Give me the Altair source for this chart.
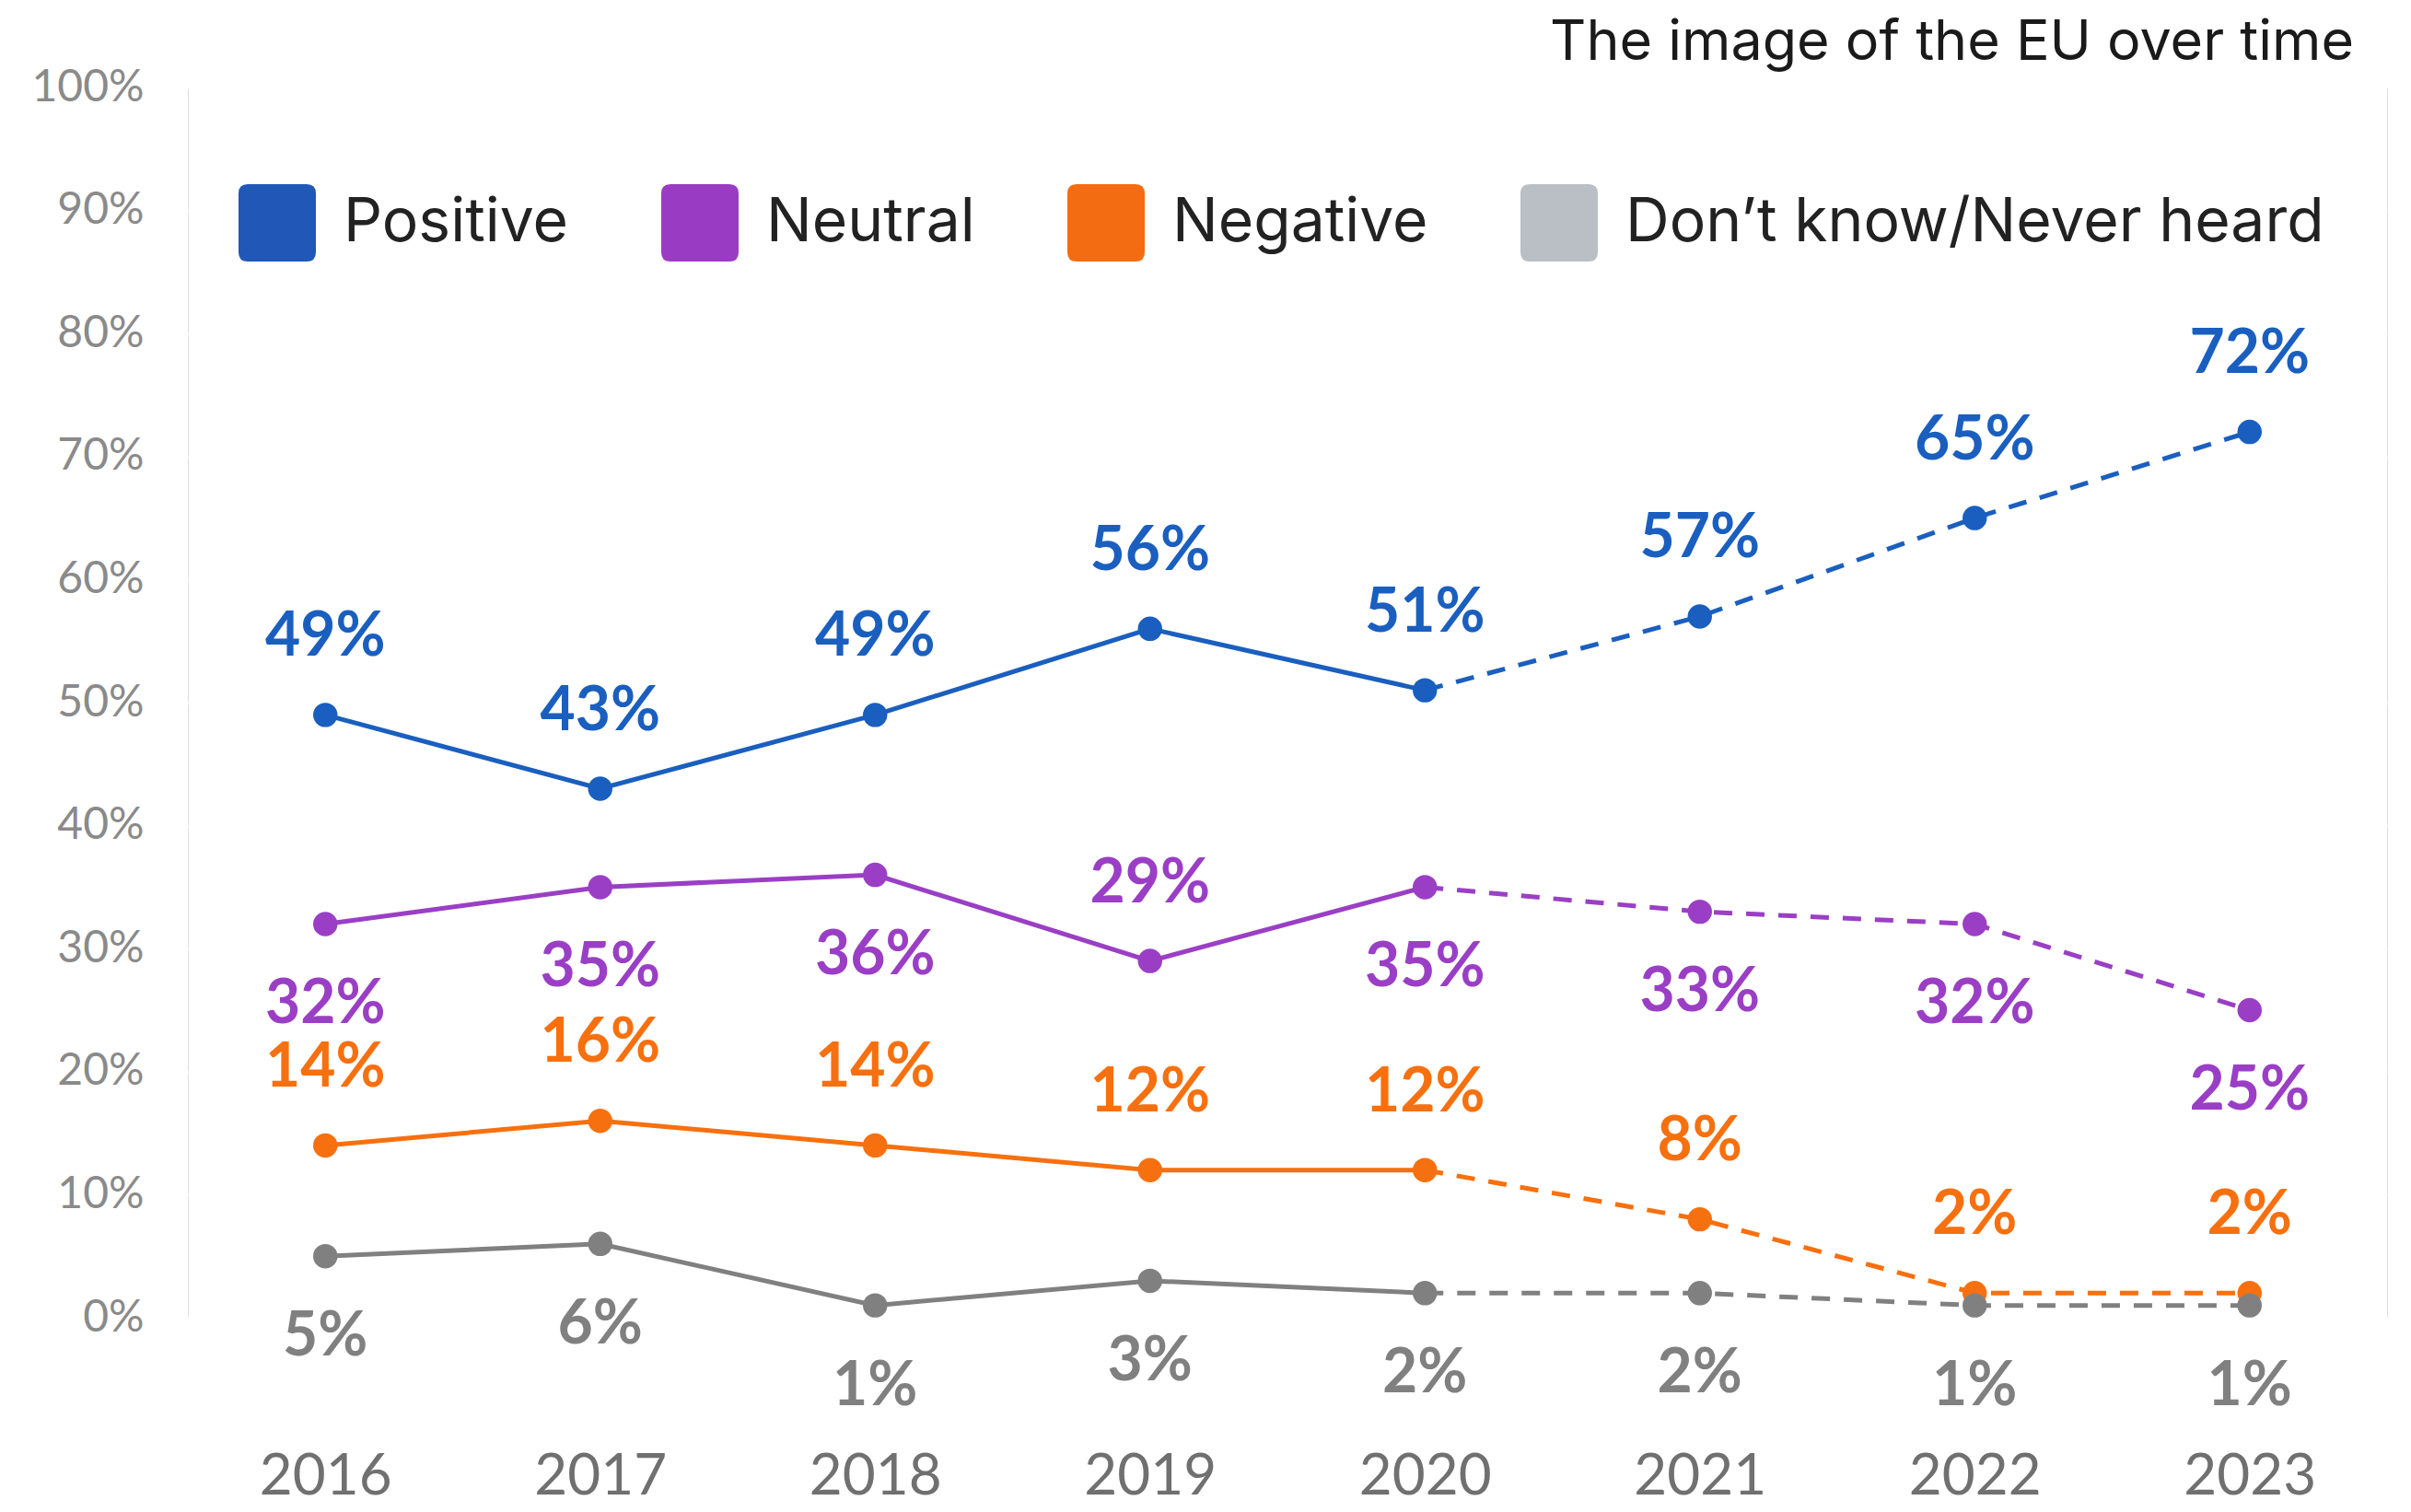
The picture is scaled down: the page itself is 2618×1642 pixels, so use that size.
import altair as alt
import pandas as pd

# ---------------- data ----------------
years = [2016, 2017, 2018, 2019, 2020, 2021, 2022, 2023]
series = ["Positive", "Neutral", "Negative", "Don’t know/Never heard"]
positive = [49, 43, 49, 56, 51, 57, 65, 72]
neutral = [32, 35, 36, 29, 35, 33, 32, 25]
negative = [14, 16, 14, 12, 12, 8, 2, 2]
dont_know = [5, 6, 1, 3, 2, 2, 1, 1]
y_ticks = [0, 10, 20, 30, 40, 50, 60, 70, 80, 90, 100]
title_text = "The image of the EU over time"
last_solid_year = 2020

# ---------------- style ----------------
line_colors = ["#1a5fbf", "#9a3fc5", "#f7700f", "#808080"]
legend_colors = ["#2157b6", "#9a3cc3", "#f46c12", "#b9bfc5"]
series_labels_above = ["Positive", "Negative"]
label_side_exceptions = {("Neutral", 2019): "above"}

values_by_series = dict(zip(series, [positive, neutral, negative, dont_know]))
rows = []
for s in series:
    for yr, v in zip(years, values_by_series[s]):
        side = "above" if s in series_labels_above else "below"
        side = label_side_exceptions.get((s, yr), side)
        rows.append({
            "series": s, "year": str(yr), "value": v,
            "label": f"{v}%",
            "solid": yr <= last_solid_year,
            "dashed": yr >= last_solid_year,
            "side": side,
        })
df = pd.DataFrame(rows)

year_order = [str(y) for y in years]
x_enc = alt.X("year:O", sort=year_order,
              scale=alt.Scale(type="point", padding=0.5),
              axis=alt.Axis(title=None, labelAngle=0, ticks=False, domain=False,
                            grid=False, labelFont="Lato", labelFontSize=62,
                            labelColor="#707070", labelPadding=142))
y_enc = alt.Y("value:Q",
              scale=alt.Scale(domain=[0, 100], nice=False, zero=True),
              axis=alt.Axis(title=None, values=y_ticks, labelExpr="datum.value + '%'",
                            ticks=False, domain=False, grid=True,
                            gridColor="#ffffff", gridWidth=4,
                            labelFont="Lato", labelFontSize=48,
                            labelColor="#8a8a8a", labelPadding=48))

line_scale = alt.Scale(domain=series, range=line_colors)
color_lines = alt.Color("series:N", scale=line_scale, legend=None)

base = alt.Chart(df).encode(x=x_enc, y=y_enc)

solid = base.transform_filter("datum.solid").mark_line(strokeWidth=5).encode(
    color=color_lines, detail="series:N")
dashed = base.transform_filter("datum.dashed").mark_line(
    strokeWidth=5, strokeDash=[20, 15]).encode(color=color_lines, detail="series:N")
points = base.mark_circle(size=700, opacity=1).encode(color=color_lines)

text_style = dict(font="Lato", fontSize=66, fontWeight="bold", baseline="middle",
                  align="center")
labels_above = base.transform_filter("datum.side == 'above'").mark_text(
    dy=-84, **text_style).encode(text="label:N", color=color_lines)
labels_below = base.transform_filter("datum.side == 'below'").mark_text(
    dy=88, **text_style).encode(text="label:N", color=color_lines)

rounded_square = ("M -0.76 -1 L 0.76 -1 Q 1 -1 1 -0.76 L 1 0.76 Q 1 1 0.76 1 "
                  "L -0.76 1 Q -1 1 -1 0.76 L -1 -0.76 Q -1 -1 -0.76 -1 Z")
legend_layer = base.mark_square(opacity=0, size=10).encode(
    color=alt.Color("series:N", sort=series,
                    scale=alt.Scale(domain=series, range=legend_colors),
                    legend=alt.Legend(
                        title=None, orient="none", legendX=55, legendY=105,
                        direction="horizontal", symbolType=rounded_square,
                        symbolSize=7056, symbolOpacity=1, symbolStrokeWidth=0,
                        labelFont="Inter", labelFontSize=66, labelColor="#222222",
                        labelOffset=30, columnPadding=100, labelLimit=2000,
                        padding=0)))

chart = alt.layer(
    solid, dashed, points, labels_above, labels_below, legend_layer
).resolve_scale(color="independent").properties(
    width=2388, height=1336,
    autosize=alt.AutoSizeParams(type="none"),
    padding={"left": 196, "top": 87, "right": 10, "bottom": 203},
    title=alt.TitleParams(title_text, anchor="end", frame="group", font="Inter",
                          fontSize=61, fontWeight="normal", color="#1a1a1a",
                          dx=-36, offset=-55, baseline="alphabetic"),
).configure_view(
    fill="#f2f2f2", stroke="#d4d4d4", strokeWidth=3
).configure(background="#ffffff")

chart.save("out.html", embed_options={"renderer": "svg", "actions": False})
